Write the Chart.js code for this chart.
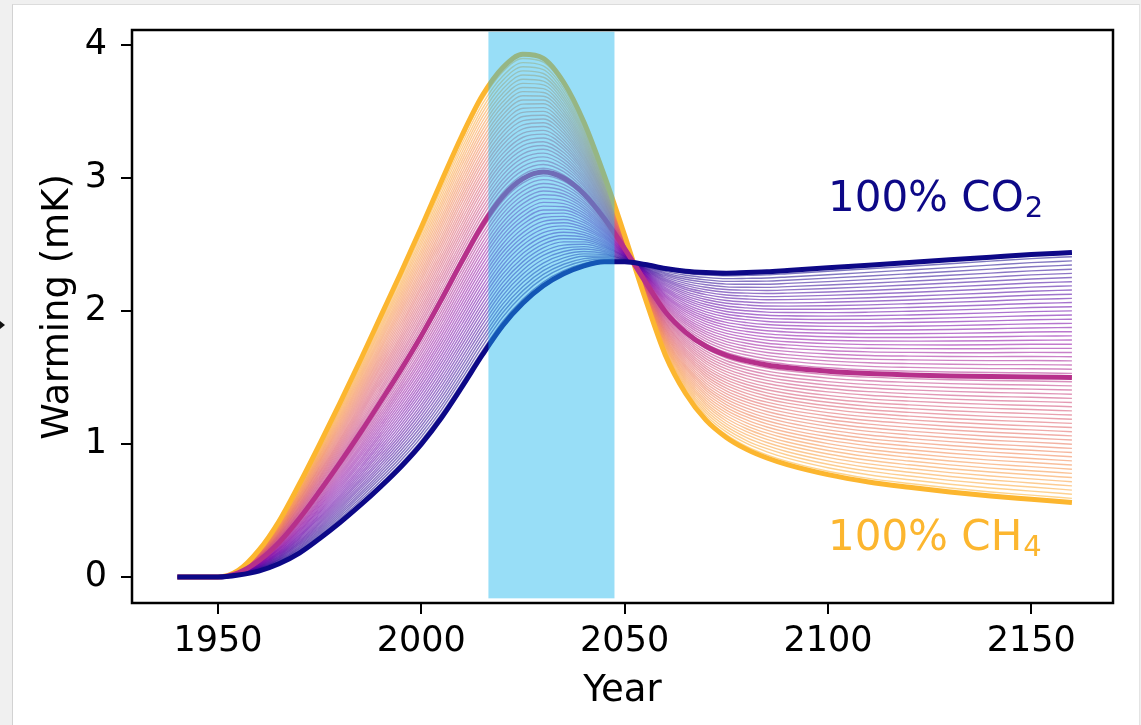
<!DOCTYPE html>
<html lang="en">
<head>
<meta charset="UTF-8">
<title>Warming</title>
<script src="https://cdn.jsdelivr.net/npm/chart.js"></script>
<style>
    html, body { margin: 0; padding: 0; background: #f0f0f0; }
    body { width: 1141px; height: 725px; position: relative; overflow: hidden; }
    #sheet { position: absolute; left: 12px; top: 4px; width: 1126px; height: 721px; background: #fff;
             border-left: 1px solid #d2d2d2; border-top: 1px solid #dcdcdc; border-right: 1px solid #e4e4e4; }
    #arrow { position: absolute; left: 0; top: 321px; width: 0; height: 0;
             border-top: 4px solid transparent; border-bottom: 4px solid transparent; border-left: 5px solid #111; }
    #chart { position: absolute; left: 0; top: 0; }
</style>
</head>
<body>
<div id="sheet"></div>
<div id="arrow"></div>
<canvas id="chart" width="1141" height="725"></canvas>
<script>
    // values
    const years = [1940, 1945, 1950, 1955, 1960, 1965, 1970, 1975, 1980, 1985, 1990, 1995, 2000, 2005, 2010, 2015,
                   2020, 2025, 2030, 2035, 2040, 2045, 2050, 2055, 2060, 2065, 2070, 2075, 2080, 2085, 2090, 2100,
                   2110, 2120, 2130, 2140, 2150, 2160];
    const ch4 = [0, 0, 0, 0.05, 0.2, 0.42, 0.7, 1.0, 1.31, 1.63, 1.96, 2.29, 2.63, 2.98, 3.32, 3.62,
                 3.83, 3.93, 3.9, 3.72, 3.42, 3.02, 2.57, 2.1, 1.67, 1.38, 1.18, 1.05, 0.96, 0.895, 0.845, 0.77,
                 0.715, 0.675, 0.64, 0.61, 0.585, 0.56];
    const co2 = [0, 0, 0, 0.015, 0.045, 0.1, 0.18, 0.29, 0.41, 0.54, 0.68, 0.83, 1.0, 1.2, 1.43, 1.67,
                 1.89, 2.06, 2.19, 2.28, 2.34, 2.37, 2.37, 2.35, 2.32, 2.3, 2.29, 2.285, 2.29, 2.295, 2.305, 2.325,
                 2.345, 2.365, 2.385, 2.405, 2.425, 2.44];
    // share of CH4 in each mixture line (0 = all CO2, 1 = all CH4)
    const thinShares = Array.from({length: 61}, (_, i) => i / 60);
    const thickShares = [0, 0.5, 1];
    const xTicks = [1950, 2000, 2050, 2100, 2150];
    const yTicks = [0, 1, 2, 3, 4];
    const bandYears = [2016.5, 2047.5];
    const bandLevels = [-0.16, 4.1];

    const plasma = ["#0d0887", "#41049d", "#6a00a8", "#8f0da4", "#b12a90", "#cc4778",
                    "#e16462", "#f2844b", "#fca636", "#fcce25", "#f0f921"];
    const cmapTop = 0.84;
    function plasmaAt(t, alpha) {
        let p = Math.min(Math.max(t, 0), 1) * (plasma.length - 1);
        let i = Math.min(Math.floor(p), plasma.length - 2), f = p - i;
        let a = plasma[i], b = plasma[i + 1];
        let c = [1, 3, 5].map(k => Math.round(parseInt(a.substr(k, 2), 16) * (1 - f) + parseInt(b.substr(k, 2), 16) * f));
        return `rgba(${c[0]}, ${c[1]}, ${c[2]}, ${alpha})`;
    }
    function mix(share) {
        return years.map((yr, i) => ({x: yr, y: share * ch4[i] + (1 - share) * co2[i]}));
    }

    let datasets = [];
    thickShares.forEach((s, k) => {
        datasets.push({data: mix(s), borderColor: plasmaAt(s * cmapTop, 1), borderWidth: 5, order: k});
    });
    thinShares.forEach(s => {
        datasets.push({data: mix(s), borderColor: plasmaAt(s * cmapTop, 0.55), borderWidth: 1.4, order: 10});
    });

    const font = '"DejaVu Sans", sans-serif';

    const decor = {
        id: "decor",
        afterDatasetsDraw(chart) {
            let {ctx, scales: {x, y}} = chart;
            ctx.save();
            ctx.fillStyle = "rgba(27, 182, 238, 0.45)";
            let x0 = x.getPixelForValue(bandYears[0]), x1 = x.getPixelForValue(bandYears[1]);
            let y0 = y.getPixelForValue(bandLevels[1]), y1 = y.getPixelForValue(bandLevels[0]);
            ctx.fillRect(x0, y0, x1 - x0, y1 - y0);

            function label(base, sub, xv, yv, color) {
                let px = x.getPixelForValue(xv), py = y.getPixelForValue(yv);
                ctx.fillStyle = color;
                ctx.textBaseline = "alphabetic";
                ctx.textAlign = "left";
                ctx.font = "42px " + font;
                ctx.fillText(base, px, py);
                let w = ctx.measureText(base).width;
                ctx.font = "29px " + font;
                ctx.fillText(sub, px + w + 1, py + 6);
            }
            label("100% CO", "2", 2100, 2.75, plasmaAt(0, 1));
            label("100% CH", "4", 2100, 0.2, plasmaAt(cmapTop, 1));
            ctx.restore();
        },
        afterDraw(chart) {
            let {ctx, chartArea: a} = chart;
            ctx.save();
            ctx.strokeStyle = "#000";
            ctx.lineWidth = 2.5;
            ctx.strokeRect(a.left, a.top, a.right - a.left, a.bottom - a.top);
            // y axis title, drawn by hand so it can sit where the reference has it
            ctx.translate(68, 307);
            ctx.rotate(-Math.PI / 2);
            ctx.fillStyle = "#000";
            ctx.font = "37px " + font;
            ctx.textAlign = "center";
            ctx.textBaseline = "alphabetic";
            ctx.fillText("Warming (mK)", 0, 0);
            ctx.restore();
        }
    };

    const tickGrid = {display: true, drawOnChartArea: false, drawTicks: true, tickLength: 11, color: "#000", lineWidth: 2};

    new Chart(document.getElementById("chart"), {
        type: "line",
        data: {datasets: datasets},
        options: {
            responsive: false,
            animation: false,
            events: [],
            layout: {padding: {top: 30, right: 28, left: 0, bottom: 0}},
            elements: {
                point: {radius: 0},
                line: {cubicInterpolationMode: "monotone", borderCapStyle: "butt", fill: false}
            },
            plugins: {legend: {display: false}, tooltip: {enabled: false}},
            scales: {
                x: {
                    type: "linear",
                    min: 1928.85,
                    max: 2170.1,
                    afterBuildTicks: s => { s.ticks = xTicks.map(v => ({value: v})); },
                    afterFit: s => { s.height = 122; s.paddingLeft = 0; s.paddingRight = 0; },
                    grid: tickGrid,
                    border: {display: false},
                    ticks: {color: "#000", font: {family: font, size: 35}, padding: 7, maxRotation: 0, autoSkip: false,
                            callback: v => String(v)},
                    title: {display: true, text: "Year", color: "#000", font: {family: font, size: 37}, padding: {top: 0, bottom: 11}}
                },
                y: {
                    min: -0.195,
                    max: 4.113,
                    afterBuildTicks: s => { s.ticks = yTicks.map(v => ({value: v})); },
                    afterFit: s => { s.width = 132; s.paddingTop = 0; s.paddingBottom = 0; },
                    grid: tickGrid,
                    border: {display: false},
                    ticks: {color: "#000", font: {family: font, size: 35}, padding: 14, callback: v => String(v)}
                }
            }
        },
        plugins: [decor]
    });
</script>
</body>
</html>
